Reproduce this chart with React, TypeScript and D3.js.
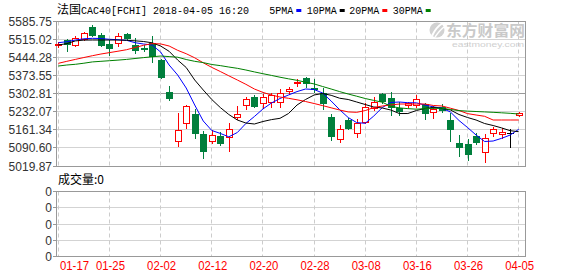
import React from 'react';
import * as d3 from 'd3';

const dates = ['01-17','01-18','01-19','01-22','01-23','01-24','01-25','01-26','01-29','01-30','01-31',
  '02-01','02-02','02-05','02-06','02-07','02-08','02-09','02-12','02-13','02-14','02-15','02-16','02-19','02-20','02-21','02-22','02-23','02-26','02-27','02-28',
  '03-01','03-02','03-05','03-06','03-07','03-08','03-09','03-12','03-13','03-14','03-15','03-16','03-19','03-20','03-21','03-22','03-23','03-26','03-27','03-28','03-29',
  '04-03','04-04','04-05'];

const opens = [5497.0,5513.3,5493.7,5516.0,5565.4,5532.9,5497.6,5500.3,5536.8,5493.7,5481.9,
  5502.7,5434.9,5310.8,5118.9,5187.1,5223.5,5144.0,5118.9,5137.3,5132.2,5210.6,5257.5,5291.2,5265.4,5271.6,5271.6,5314.7,5346.0,5363.3,5324.1,
  5306.9,5210.6,5126.8,5200.0,5150.3,5193.3,5245.8,5301.8,5285.0,5245.8,5258.7,5258.7,5262.6,5232.5,5252.1,5200.0,5111.1,5106.0,5137.3,5075.8,5150.3,
  5144.0,5150.3,5219.6];
const highs = [5506.6,5516.0,5528.9,5544.6,5572.0,5541.9,5513.3,5539.5,5540.7,5520.0,5493.7,
  5528.9,5438.9,5333.1,5226.2,5258.7,5243.1,5156.9,5160.8,5154.2,5187.1,5254.8,5291.2,5297.9,5301.8,5306.9,5320.2,5330.4,5359.4,5368.4,5359.4,
  5324.1,5223.5,5180.4,5206.6,5202.7,5265.4,5291.2,5304.5,5310.8,5271.6,5271.6,5297.9,5267.7,5254.8,5262.6,5228.6,5141.3,5124.4,5147.9,5145.2,5173.8,
  5167.5,5163.6,5231.5];
const lows = [5484.7,5471.4,5489.8,5513.3,5528.9,5489.8,5454.5,5489.8,5519.0,5463.5,5471.4,
  5428.3,5364.5,5278.3,5098.2,5167.5,5128.3,5050.0,5111.1,5102.1,5079.8,5202.7,5241.9,5249.7,5245.8,5249.7,5249.7,5301.8,5333.1,5328.0,5310.8,
  5241.9,5121.7,5115.0,5163.6,5132.2,5187.1,5239.2,5265.4,5219.6,5219.6,5252.1,5252.1,5202.7,5206.6,5232.5,5118.9,5059.0,5043.3,5106.0,5036.7,5137.3,
  5128.3,5095.4,5215.7];
const closes = [5498.0,5496.4,5521.1,5539.5,5532.9,5493.7,5481.9,5528.9,5522.3,5474.1,5480.0,
  5451.8,5367.2,5287.3,5160.8,5254.8,5150.3,5079.8,5141.3,5111.1,5163.6,5223.5,5281.0,5254.8,5288.9,5297.9,5306.9,5320.2,5350.0,5346.0,5320.2,
  5265.4,5137.3,5163.6,5169.8,5187.1,5252.1,5271.6,5275.6,5252.1,5236.4,5267.7,5281.0,5226.2,5241.9,5239.2,5163.6,5095.4,5066.8,5115.0,5128.3,5163.6,
  5154.2,5150.3,5226.2];

const ma5 = [5502.7,5506.6,5513.3,5518.0,5519.9,5519.1,5516.0,5514.4,5512.1,5502.7,5497.6,
  5493.7,5466.3,5415.4,5376.2,5325.3,5258.7,5196.1,5158.9,5147.5,5134.2,5151.0,5186.3,5213.7,5243.1,5266.6,5284.2,5297.9,5311.2,5321.4,5319.4,
  5305.7,5274.4,5240.3,5209.8,5189.8,5187.1,5215.6,5248.9,5268.5,5270.5,5267.7,5267.3,5258.7,5251.3,5246.2,5231.3,5198.0,5170.6,5141.2,5115.8,5117.7,
  5128.3,5141.2,5163.6];
const ma10 = [5493.7,5499.2,5509.7,5512.9,5513.3,5513.3,5513.3,5513.3,5512.1,5510.1,5507.4,
  5502.3,5489.8,5469.0,5434.9,5405.6,5356.6,5317.5,5280.3,5248.9,5221.5,5200.0,5188.2,5184.3,5194.1,5201.5,5206.6,5225.4,5258.7,5280.3,5297.9,
  5303.8,5296.7,5285.3,5280.3,5270.5,5260.7,5250.9,5247.0,5239.1,5225.4,5225.4,5237.2,5245.0,5249.7,5245.0,5239.1,5221.5,5209.8,5200.0,5186.3,5178.4,
  5169.0,5158.1,5154.2];
const ma20 = [5422.0,5429.8,5437.3,5444.7,5451.8,5458.4,5463.9,5469.4,5475.3,5483.9,5492.5,
  5499.2,5498.0,5489.8,5472.9,5459.6,5443.6,5424.0,5406.0,5389.9,5373.1,5356.6,5339.8,5321.4,5308.1,5297.9,5290.0,5285.0,5279.1,5272.4,5264.6,
  5256.4,5247.8,5239.1,5231.7,5230.1,5236.8,5248.9,5254.8,5258.7,5262.6,5262.6,5262.6,5262.6,5256.8,5254.8,5246.2,5237.2,5225.0,5219.6,5214.5,5200.0,
  5200.0,5200.0,5200.0];
const ma30 = [5411.4,5415.4,5418.1,5422.4,5427.5,5429.8,5432.2,5434.5,5437.3,5440.8,5444.3,
  5447.5,5450.6,5448.3,5445.9,5436.9,5429.8,5424.8,5417.3,5413.0,5407.5,5402.4,5395.8,5388.3,5381.3,5374.6,5367.6,5361.3,5355.4,5348.0,5341.3,
  5331.2,5321.4,5311.2,5301.8,5293.2,5284.2,5276.7,5269.7,5253.6,5247.4,5244.6,5242.3,5244.6,5245.8,5245.8,5241.1,5236.8,5234.8,5233.3,5231.7,5230.1,
  5228.2,5226.2,5223.5];

const yTicks = ['5585.75','5515.02','5444.28','5373.55','5302.81','5232.07','5161.34','5090.60','5019.87'];
const xTickLabels = ['01-17','01-25','02-02','02-12','02-20','02-28','03-08','03-16','03-26','04-05'];
const volTicks = ['0','0','0','0','0'];
const legendNames = ['5PMA','10PMA','20PMA','30PMA'];
const legendColors = ['#0000ff','#000000','#ff0000','#008000'];
const title = '法国';
const titleRest = 'CAC40[FCHI] 2018-04-05 16:20';
const volumeLabel = '成交量:0';

const UP = '#ff0000';
const DOWN = '#007f3c';

export default function App() {
  const left = 56.5, right = 525.5, top = 21.5, bottom = 166.5;
  const vTop = 191.5, vBottom = 256.5;
  const x = d3.scalePoint<string>().domain(dates).range([58.3, 518.7]);
  const yVals = yTicks.map(Number);
  const y = d3.scaleLinear().domain([yVals[8], yVals[0]]).range([166, 21.5]);
  const vy = d3.scaleLinear().domain([0, volTicks.length - 1]).range([vBottom, vTop]);
  const snap = (v: number) => Math.round(v - 0.5) + 0.5;
  const lineGen = (arr: number[]) =>
    d3.line<number>().x((_, i) => x(dates[i]) as number).y(d => y(d))(arr) as string;
  const mas = [ma5, ma10, ma20, ma30];
  const labelFont = '"Liberation Sans", Arial, sans-serif';
  const cjk = '"Noto Sans CJK SC", sans-serif';
  const mono = '"Liberation Mono", monospace';

  const legendX = [269.3, 306.7, 349.3, 392.7];
  const legendW = [24, 30, 30, 30];

  return (
    <svg width={578} height={276} style={{ position: 'absolute', left: 0, top: 0, background: '#fff' }}>
      <rect x={0} y={0} width={578} height={276} fill="#fff" />
      {/* watermark */}
      <g>
        <circle cx={437} cy={30} r={7.5} fill="#d2d2d2" />
        <path d="M432,36 Q436,27 443,23" stroke="#fff" strokeWidth={2} fill="none" />
        <path d="M435,37 Q440,30 444,27" stroke="#fff" strokeWidth={1.5} fill="none" />
        <text x={446} y={35.5} fontFamily={cjk} fontSize={15} fontWeight="bold" fill="#c9c9c9" textLength={79} lengthAdjust="spacingAndGlyphs">东方财富网</text>
        <text x={452} y={47} fontFamily={labelFont} fontSize={7.5} fill="#d0d0d0" textLength={72} lengthAdjust="spacingAndGlyphs">eastmoney.com</text>
      </g>

      {/* title */}
      <text x={57} y={14} fontSize={12} fill="#000" fontFamily={cjk}>{title}</text>
      <text x={81} y={14} fontSize={11} fill="#000" fontFamily={mono} textLength={168} lengthAdjust="spacingAndGlyphs">{titleRest}</text>

      {/* legend */}
      {legendNames.map((n, i) => (
        <g key={n}>
          <text x={legendX[i]} y={14} fontSize={11} fontFamily={mono} fill="#000" textLength={legendW[i]} lengthAdjust="spacingAndGlyphs">{n}</text>
          <rect x={legendX[i] + legendW[i] + 3} y={9} width={5} height={3} fill={legendColors[i]} />
        </g>
      ))}

      {/* main horizontal grid */}
      {yVals.map((t, i) => (
        <line key={'g' + i} x1={left} x2={right} y1={snap(y(t))} y2={snap(y(t))}
          stroke={i === 4 ? '#999' : '#d3d3d3'} strokeWidth={1} />
      ))}
      {/* volume horizontal grid */}
      {volTicks.map((_, i) => (
        <line key={'vg' + i} x1={left} x2={right} y1={snap(vy(i))} y2={snap(vy(i))} stroke="#d3d3d3" />
      ))}
      {/* vertical dashed grid */}
      {xTickLabels.map(d => {
        const xx = snap(x(d) as number);
        return (
          <g key={'v' + d}>
            <line x1={xx} x2={xx} y1={top} y2={bottom} stroke="#cccccc" strokeDasharray="4,3" />
            <line x1={xx} x2={xx} y1={vTop} y2={vBottom} stroke="#cccccc" strokeDasharray="4,3" />
          </g>
        );
      })}

      {/* frames */}
      <rect x={left} y={top} width={right - left} height={bottom - top} fill="none" stroke="#999" />
      <rect x={left} y={vTop} width={right - left} height={vBottom - vTop} fill="none" stroke="#999" />

      {/* y labels and ticks */}
      {yVals.map((t, i) => (
        <g key={'yl' + i}>
          <line x1={53} x2={left} y1={snap(y(t))} y2={snap(y(t))} stroke="#999" />
          <text x={52} y={y(t) + 4.5} textAnchor="end" fontFamily={labelFont} fontSize={12} fill="#333">{yTicks[i]}</text>
        </g>
      ))}
      {volTicks.map((t, i) => (
        <g key={'vl' + i}>
          <line x1={53} x2={left} y1={snap(vy(i))} y2={snap(vy(i))} stroke="#999" />
          <text x={52} y={vy(i) + 4.5} textAnchor="end" fontFamily={labelFont} fontSize={12} fill="#333">{t}</text>
        </g>
      ))}

      {/* volume label */}
      <text x={58} y={184} fontFamily={cjk} fontSize={12} fill="#000">{volumeLabel}</text>

      {/* x labels */}
      {xTickLabels.map((d, i) => (
        <text key={'xl' + d} x={i === 0 ? 60 : (x(d) as number) + 1} y={270}
          textAnchor={i === 0 ? 'start' : 'middle'} fontFamily={labelFont} fontSize={12} fill="#ff0000"
          textLength={29} lengthAdjust="spacingAndGlyphs">{d}</text>
      ))}

      {/* candles */}
      {dates.map((d, i) => {
        const cx = Math.round(x(d) as number);
        const o = opens[i], c = closes[i], h = highs[i], l = lows[i];
        const yH = Math.round(y(h)), yL = Math.round(y(l));
        const yO = Math.round(y(o)), yC = Math.round(y(c));
        const bTop = Math.min(yO, yC), bBot = Math.max(yO, yC);
        if (c > o) {
          return (
            <g key={'c' + i}>
              <line x1={cx + 0.5} x2={cx + 0.5} y1={yH} y2={bTop} stroke={UP} />
              <line x1={cx + 0.5} x2={cx + 0.5} y1={bBot + 1} y2={yL + 1} stroke={UP} />
              <rect x={cx - 2.5} y={bTop + 0.5} width={6} height={Math.max(bBot - bTop, 1)} fill="#fff" stroke={UP} />
            </g>
          );
        } else if (c < o) {
          return (
            <g key={'c' + i}>
              <line x1={cx + 0.5} x2={cx + 0.5} y1={yH} y2={yL + 1} stroke={DOWN} />
              <rect x={cx - 3} y={bTop} width={7} height={Math.max(bBot - bTop, 1) + 1} fill={DOWN} />
            </g>
          );
        }
        return (
          <g key={'c' + i}>
            <line x1={cx + 0.5} x2={cx + 0.5} y1={yH} y2={yL + 1} stroke="#000" />
            <line x1={cx - 3} x2={cx + 4} y1={yO + 0.5} y2={yO + 0.5} stroke="#000" />
          </g>
        );
      })}

      {/* moving averages */}
      {mas.map((m, i) => (
        <path key={'ma' + i} d={lineGen(m)} fill="none" stroke={legendColors[i]} strokeWidth={1} />
      ))}
    </svg>
  );
}
